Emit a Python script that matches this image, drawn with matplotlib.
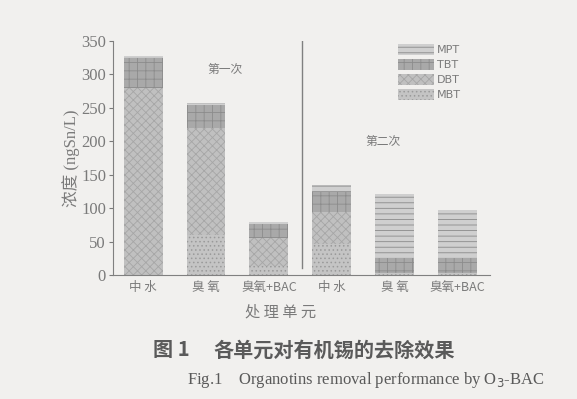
import numpy as np
import matplotlib
matplotlib.use("Agg")
import matplotlib.pyplot as plt
from matplotlib.patches import Patch

plt.rcParams['font.family'] = ['Liberation Serif', 'Noto Sans CJK SC', 'DejaVu Sans']
plt.rcParams['hatch.linewidth'] = 0.6

categories = ["中 水", "臭 氧", "臭氧+BAC", "中 水", "臭 氧", "臭氧+BAC"]
mbt = [0, 60, 13, 47, 3, 3]
dbt = [280, 160, 42, 47, 0, 0]
tbt = [44, 35, 22, 30, 22, 22]
mpt = [4, 2, 2, 10, 96, 72]
series_names = ["MBT", "DBT", "TBT", "MPT"]

bg = "#f1f0ee"
txt = "#7a7a7a"
styles = {
    "MBT": dict(color="#c4c4c4", hatch="....", edgecolor="#9a9a9a"),
    "DBT": dict(color="#c0c0c0", hatch="xxxx", edgecolor="#a6a6a6"),
    "TBT": dict(color="#a9a9a9", hatch="++", edgecolor="#8c8c8c"),
    "MPT": dict(color="#cfcfcf", hatch="---", edgecolor="#8a8a8a"),
}

fig = plt.figure(figsize=(5.77, 3.99), dpi=100, facecolor=bg)
ax = fig.add_axes([113 / 577, 1 - 275 / 399, (490 - 113) / 577, (275 - 41) / 399])
ax.set_facecolor(bg)

x = np.arange(len(categories))
bottom = np.zeros(len(categories))
for name, vals in zip(series_names, [mbt, dbt, tbt, mpt]):
    s = styles[name]
    ax.bar(x, vals, 0.62, bottom=bottom, color=s["color"], hatch=s["hatch"],
           edgecolor=s["edgecolor"], linewidth=0)
    bottom += np.array(vals)

ax.set_xlim(-0.48, 5.52)
ax.set_ylim(0, 350)
ax.set_yticks(range(0, 351, 50))
ax.set_xticks(x)
ax.set_xticklabels(categories, fontsize=9, color=txt, family=['Noto Sans CJK SC', 'DejaVu Sans'])
ax.tick_params(axis='y', labelsize=12, colors=txt, length=3, pad=2)
ax.tick_params(axis='x', length=0, pad=4)
for sp in ["top", "right"]:
    ax.spines[sp].set_visible(False)
for sp in ["left", "bottom"]:
    ax.spines[sp].set_color("#808080")

ax.axvline(2.53, ymin=0.03, ymax=1.0, color="#808080", linewidth=1)
ax.text(1.3, 307, "第一次", fontsize=8.5, color=txt, ha="center", va="center",
        family=['Noto Sans CJK SC'])
ax.text(3.82, 199, "第二次", fontsize=8.5, color=txt, ha="center", va="center",
        family=['Noto Sans CJK SC'])

ax.set_ylabel("浓度 (ngSn/L)", fontsize=12, color=txt, labelpad=1)
fig.text(281 / 577, 1 - 312 / 399, "处 理 单 元", fontsize=11, color=txt,
         ha="center", va="center", family=['Noto Sans CJK SC'])

handles = [Patch(facecolor=styles[n]["color"], hatch=styles[n]["hatch"],
                 edgecolor=styles[n]["edgecolor"], linewidth=0, label=n)
           for n in ["MPT", "TBT", "DBT", "MBT"]]
leg = ax.legend(handles=handles, loc="upper left", bbox_to_anchor=(0.73, 1.03),
                frameon=False, fontsize=8, handlelength=3.2, handleheight=1.1,
                labelspacing=0.35, handletextpad=0.3,
                prop={'family': ['DejaVu Sans'], 'size': 8})
for t in leg.get_texts():
    t.set_color(txt)

fig.text(153 / 577, 1 - 350 / 399, "图 1", fontsize=14.5,
         fontweight="bold", color="#5a5a5a", ha="left", va="center",
         family=['Noto Sans CJK SC'])
fig.text(213 / 577, 1 - 350 / 399, "各单元对有机锡的去除效果", fontsize=14.5,
         fontweight="bold", color="#5a5a5a", ha="left", va="center",
         family=['Noto Sans CJK SC'])
fig.text(187 / 577, 1 - 380 / 399, "Fig.1    Organotins removal performance by O$_3$-BAC",
         fontsize=12, color="#5a5a5a", ha="left", va="center")

fig.savefig("out.png", dpi=100, facecolor=bg)
